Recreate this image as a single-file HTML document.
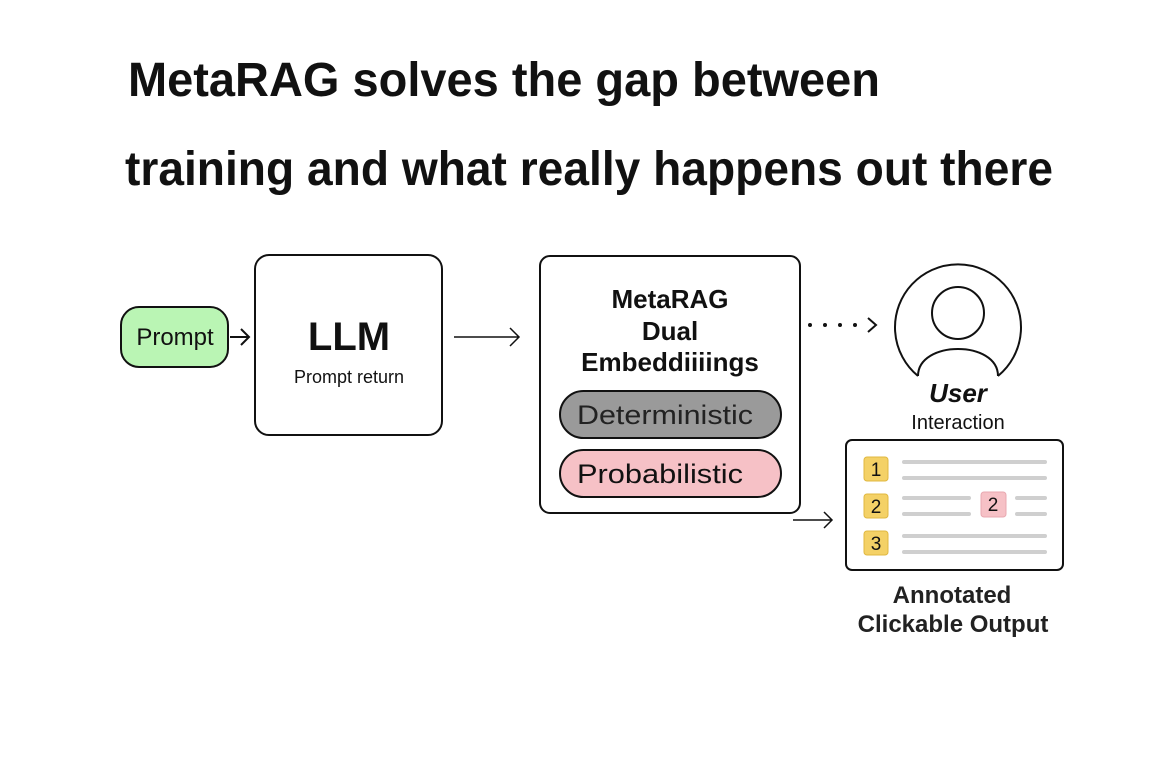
<!DOCTYPE html>
<html><head><meta charset="utf-8"><style>
html,body{margin:0;padding:0;background:#fff;width:1160px;height:773px;overflow:hidden}
svg{display:block;font-family:"Liberation Sans",sans-serif}
</style></head><body>
<svg width="1160" height="773" viewBox="0 0 1160 773" xmlns="http://www.w3.org/2000/svg">
<g fill="#111" font-weight="bold">
<text x="128" y="96" font-size="48" textLength="752" lengthAdjust="spacingAndGlyphs">MetaRAG solves the gap between</text>
<text x="125" y="185" font-size="48" textLength="928" lengthAdjust="spacingAndGlyphs">training and what really happens out there</text>
</g>
<g stroke="#111" stroke-width="2" fill="none">
<rect x="121" y="307" width="107" height="60" rx="18" fill="#baf5b4"/>
<path d="M230 337H249M241 329L249 337L241 345"/>
<rect x="255" y="255" width="187" height="180" rx="14" fill="#fff"/>
<path d="M454 337H519M510 328L519 337L510 346" stroke-width="1.5"/>
<rect x="540" y="256" width="260" height="257" rx="10" fill="#fff"/>
<rect x="560" y="391" width="221" height="47" rx="23.5" fill="#9a9a9a"/>
<rect x="560" y="450" width="221" height="47" rx="23.5" fill="#f6c1c6"/>
<path d="M868 318L876 325L868 332"/>
<path d="M918 376A63 63 0 1 1 998 376"/>
<circle cx="958" cy="313" r="26"/>
<path d="M918 376C918 340 998 340 998 376"/>
<rect x="846" y="440" width="217" height="130" rx="6" fill="#fff"/>
<path d="M793 520H832M824 512L832 520L824 528" stroke-width="1.5"/>
</g>
<g fill="#111">
<circle cx="810" cy="325" r="2"/><circle cx="825" cy="325" r="2"/><circle cx="840" cy="325" r="2"/><circle cx="855" cy="325" r="2"/>
</g>
<g fill="#111" text-anchor="middle">
<text x="175" y="345" font-size="24">Prompt</text>
<text x="349" y="350" font-size="40" font-weight="bold">LLM</text>
<text x="349" y="383" font-size="18">Prompt return</text>
<text x="670" y="308" font-size="26" font-weight="bold">MetaRAG</text>
<text x="670" y="340" font-size="26" font-weight="bold">Dual</text>
<text x="670" y="371" font-size="26" font-weight="bold">Embeddiiiings</text>
<text x="665" y="424" font-size="27" fill="#222" textLength="176" lengthAdjust="spacingAndGlyphs">Deterministic</text>
<text x="660" y="483" font-size="27" textLength="166" lengthAdjust="spacingAndGlyphs">Probabilistic</text>
<text x="958" y="402" font-size="26" font-weight="bold" font-style="italic">User</text>
<text x="958" y="429" font-size="20">Interaction</text>
<text x="952" y="603" font-size="24" font-weight="bold" fill="#222">Annotated</text>
<text x="953" y="632" font-size="24" font-weight="bold" fill="#222">Clickable Output</text>
</g>
<g stroke="#cfcfcf" stroke-width="4" stroke-linecap="round">
<path d="M904 462H1045M904 478H1045M904 498H969M904 514H969M1017 498H1045M1017 514H1045M904 536H1045M904 552H1045"/>
</g>
<g fill="#f4d166" stroke="#e0b840">
<rect x="864" y="457" width="24" height="24" rx="3"/>
<rect x="864" y="494" width="24" height="24" rx="3"/>
<rect x="864" y="531" width="24" height="24" rx="3"/>
</g>
<rect x="981" y="492" width="25" height="25" rx="3" fill="#f6c1c6" stroke="#e8a8b0"/>
<g fill="#111" text-anchor="middle" font-size="19">
<text x="876" y="476">1</text><text x="876" y="513">2</text><text x="876" y="550">3</text><text x="993" y="511">2</text>
</g>
</svg>
</body></html>
